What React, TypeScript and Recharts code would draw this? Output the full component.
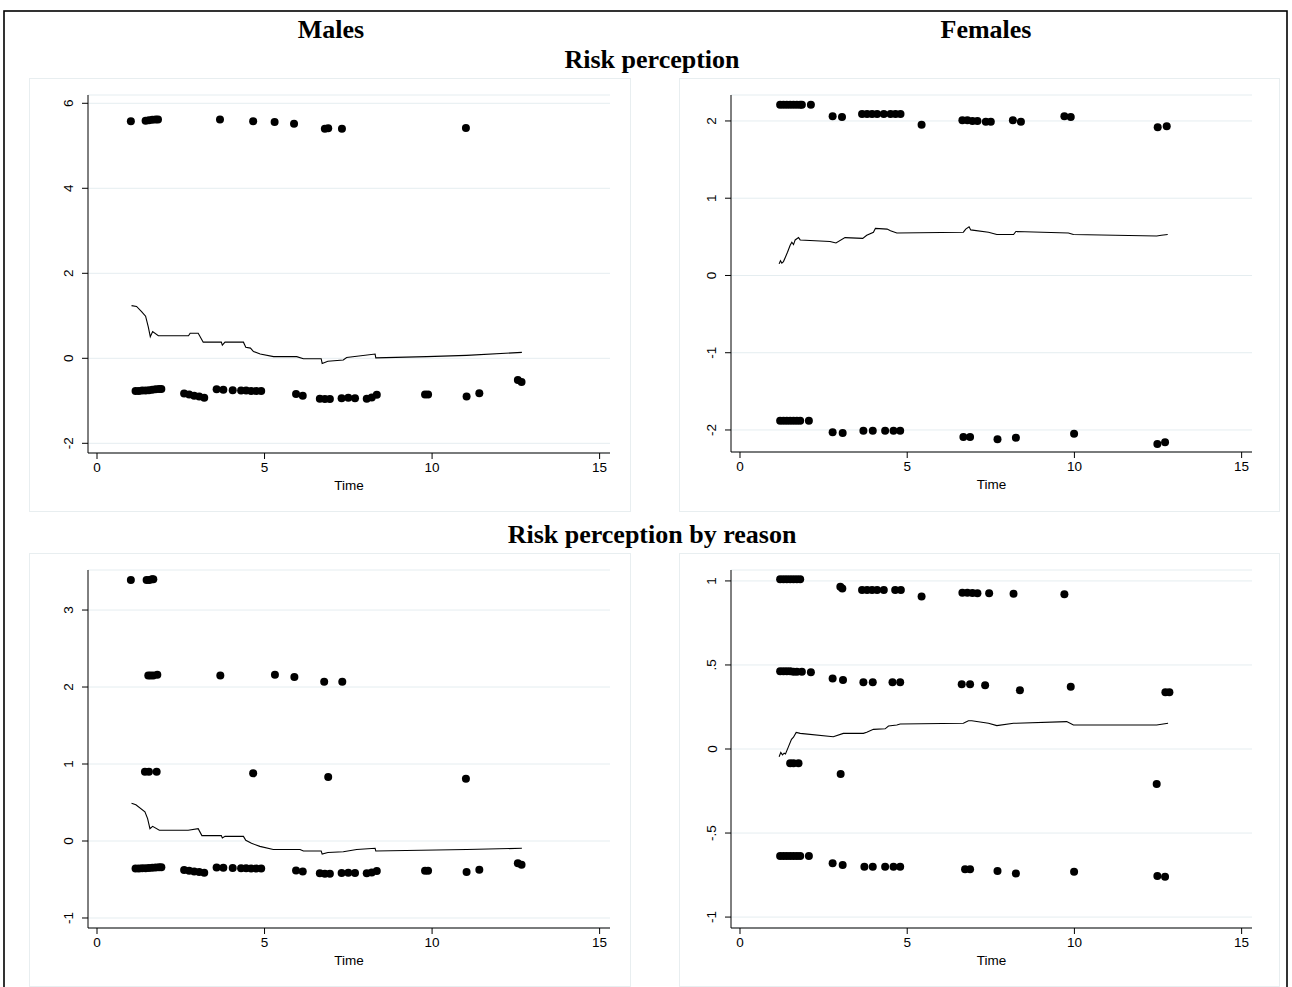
import React from 'react';
import { ComposedChart, Scatter, Line, XAxis, YAxis, CartesianGrid, Label } from 'recharts';

type Pt = [number, number];

const timeTicks = [0, 5, 10, 15];
const malesRiskTicks = [-2, 0, 2, 4, 6];
const femalesRiskTicks = [-2, -1, 0, 1, 2];
const malesReasonTicks = [-1, 0, 1, 2, 3];
const femalesReasonTicks = [-1, -0.5, 0, 0.5, 1];
const femalesReasonTickLabels = ['-1', '-.5', '0', '.5', '1'];

const malesRiskDots: Pt[] = [
  [1.01, 5.58], [1.45, 5.59], [1.55, 5.6], [1.65, 5.61], [1.75, 5.62], [1.82, 5.62], [3.67, 5.62], [4.66, 5.58],
  [5.3, 5.56], [5.88, 5.52], [6.8, 5.4], [6.9, 5.41], [7.31, 5.4], [11.01, 5.42],
  [1.15, -0.77], [1.25, -0.77], [1.35, -0.76], [1.45, -0.76], [1.55, -0.75], [1.65, -0.74], [1.75, -0.73], [1.85, -0.72], [1.92, -0.72],
  [2.6, -0.83], [2.75, -0.85], [2.9, -0.88], [3.05, -0.9], [3.2, -0.93],
  [3.57, -0.73], [3.77, -0.74], [4.05, -0.75],
  [4.3, -0.76], [4.45, -0.76], [4.6, -0.77], [4.75, -0.77], [4.9, -0.77],
  [5.94, -0.84], [6.14, -0.88], [6.65, -0.95], [6.8, -0.96], [6.95, -0.96],
  [7.3, -0.94], [7.5, -0.93], [7.7, -0.94], [8.05, -0.95], [8.2, -0.92], [8.35, -0.86],
  [9.79, -0.85], [9.88, -0.85], [11.03, -0.9], [11.41, -0.82], [12.56, -0.51], [12.67, -0.56],
];

const malesRiskTrend: Pt[] = [
  [1.03, 1.24], [1.18, 1.22], [1.33, 1.1], [1.45, 0.99], [1.53, 0.74], [1.59, 0.51], [1.66, 0.63], [1.83, 0.53],
  [2.73, 0.53], [2.78, 0.59], [3.02, 0.59], [3.17, 0.38], [3.71, 0.38], [3.74, 0.31], [3.82, 0.38], [4.37, 0.38],
  [4.44, 0.26], [4.58, 0.24], [4.67, 0.16], [4.87, 0.1], [5.27, 0.04], [5.96, 0.04], [6.16, -0.01], [6.69, -0.01],
  [6.72, -0.12], [6.89, -0.07], [7.35, -0.04], [7.45, 0.02], [8.3, 0.1], [8.32, 0.01], [9.84, 0.04], [11.03, 0.07], [12.68, 0.14],
];

const femalesRiskDots: Pt[] = [
  [1.2, 2.21], [1.3, 2.21], [1.4, 2.21], [1.5, 2.21], [1.6, 2.21], [1.7, 2.21], [1.8, 2.21], [1.85, 2.21], [2.12, 2.21],
  [2.77, 2.06], [3.05, 2.05], [3.65, 2.09], [3.8, 2.09], [3.95, 2.09], [4.1, 2.09], [4.3, 2.09], [4.5, 2.09], [4.65, 2.09], [4.8, 2.09],
  [5.43, 1.95], [6.65, 2.01], [6.8, 2.01], [6.95, 2.0], [7.1, 2.0], [7.35, 1.99], [7.5, 1.99], [8.16, 2.01], [8.4, 1.99],
  [9.7, 2.06], [9.89, 2.05], [12.49, 1.92], [12.76, 1.93],
  [1.2, -1.88], [1.3, -1.88], [1.4, -1.88], [1.5, -1.88], [1.6, -1.88], [1.7, -1.88], [1.8, -1.88], [2.06, -1.88],
  [2.77, -2.03], [3.07, -2.04], [3.69, -2.01], [3.97, -2.01], [4.34, -2.01], [4.59, -2.01], [4.79, -2.01],
  [6.68, -2.09], [6.88, -2.09], [7.7, -2.12], [8.25, -2.1], [9.99, -2.05], [12.48, -2.18], [12.71, -2.16],
];

const femalesRiskTrend: Pt[] = [
  [1.17, 0.15], [1.21, 0.19], [1.25, 0.16], [1.3, 0.18], [1.36, 0.24], [1.42, 0.3], [1.5, 0.39], [1.55, 0.43], [1.6, 0.4],
  [1.65, 0.46], [1.75, 0.49], [1.8, 0.46], [2.69, 0.44], [2.87, 0.42], [3.14, 0.49], [3.67, 0.48], [3.79, 0.52], [3.99, 0.56],
  [4.05, 0.61], [4.4, 0.6], [4.5, 0.58], [4.69, 0.55], [6.68, 0.56], [6.75, 0.6], [6.85, 0.63], [6.9, 0.59], [7.43, 0.56],
  [7.68, 0.53], [8.18, 0.53], [8.25, 0.57], [9.82, 0.55], [9.97, 0.53], [12.46, 0.51], [12.6, 0.52], [12.79, 0.53],
];

const malesReasonDots: Pt[] = [
  [1.01, 3.39], [1.48, 3.39], [1.56, 3.39], [1.64, 3.4], [1.68, 3.4],
  [1.53, 2.15], [1.6, 2.15], [1.68, 2.15], [1.8, 2.16], [3.68, 2.15], [5.31, 2.16], [5.89, 2.13], [6.78, 2.07], [7.32, 2.07],
  [1.43, 0.9], [1.55, 0.9], [1.78, 0.9], [4.66, 0.88], [6.9, 0.83], [11.01, 0.81],
  [1.15, -0.358], [1.25, -0.358], [1.35, -0.354], [1.45, -0.354], [1.55, -0.35], [1.65, -0.347], [1.75, -0.343], [1.85, -0.34], [1.92, -0.34],
  [2.6, -0.378], [2.75, -0.385], [2.9, -0.396], [3.05, -0.403], [3.2, -0.413],
  [3.57, -0.343], [3.77, -0.347], [4.05, -0.35],
  [4.3, -0.354], [4.45, -0.354], [4.6, -0.358], [4.75, -0.358], [4.9, -0.358],
  [5.94, -0.382], [6.14, -0.396], [6.65, -0.42], [6.8, -0.424], [6.95, -0.424],
  [7.3, -0.417], [7.5, -0.413], [7.7, -0.417], [8.05, -0.42], [8.2, -0.41], [8.35, -0.389],
  [9.79, -0.385], [9.88, -0.385], [11.03, -0.403], [11.41, -0.375], [12.56, -0.29], [12.67, -0.31],
];

const malesReasonTrend: Pt[] = [
  [1.03, 0.49], [1.16, 0.47], [1.43, 0.38], [1.51, 0.29], [1.58, 0.16], [1.66, 0.19], [1.86, 0.14], [2.72, 0.14],
  [3.02, 0.16], [3.13, 0.07], [3.71, 0.07], [3.74, 0.04], [3.82, 0.06], [4.37, 0.06], [4.44, 0.01], [4.61, -0.03],
  [4.86, -0.07], [5.26, -0.11], [6.06, -0.11], [6.16, -0.13], [6.69, -0.13], [6.72, -0.17], [6.89, -0.15], [7.35, -0.14],
  [7.75, -0.11], [8.3, -0.095], [8.32, -0.13], [11.03, -0.11], [12.68, -0.095],
];

const femalesReasonDots: Pt[] = [
  [1.2, 1.01], [1.3, 1.01], [1.4, 1.01], [1.5, 1.01], [1.6, 1.01], [1.7, 1.01], [1.8, 1.01], [3.0, 0.965], [3.06, 0.955],
  [3.65, 0.946], [3.8, 0.946], [3.95, 0.946], [4.1, 0.946], [4.3, 0.946], [4.64, 0.946], [4.81, 0.946], [5.43, 0.907],
  [6.65, 0.93], [6.8, 0.93], [6.95, 0.928], [7.1, 0.927], [7.45, 0.927], [8.18, 0.923], [9.7, 0.92],
  [1.2, 0.462], [1.3, 0.462], [1.4, 0.462], [1.5, 0.462], [1.6, 0.46], [1.7, 0.46], [1.85, 0.46], [2.12, 0.456],
  [2.77, 0.42], [3.08, 0.41], [3.69, 0.397], [3.97, 0.397], [4.56, 0.397], [4.79, 0.397], [6.63, 0.385], [6.88, 0.385],
  [7.33, 0.38], [8.37, 0.35], [9.89, 0.37], [12.72, 0.337], [12.84, 0.337],
  [1.5, -0.085], [1.6, -0.085], [1.75, -0.085], [3.01, -0.149], [12.46, -0.208],
  [1.2, -0.637], [1.3, -0.637], [1.4, -0.637], [1.5, -0.637], [1.6, -0.637], [1.7, -0.637], [1.8, -0.637], [2.06, -0.637],
  [2.77, -0.68], [3.07, -0.69], [3.72, -0.7], [3.97, -0.7], [4.34, -0.7], [4.59, -0.7], [4.79, -0.7],
  [6.73, -0.716], [6.88, -0.716], [7.7, -0.726], [8.25, -0.74], [9.99, -0.73], [12.48, -0.756], [12.71, -0.76],
];

const femalesReasonTrend: Pt[] = [
  [1.17, -0.046], [1.22, -0.02], [1.27, -0.035], [1.32, -0.025], [1.36, -0.03], [1.45, 0.014], [1.54, 0.058], [1.6, 0.07],
  [1.68, 0.099], [1.8, 0.093], [2.79, 0.073], [3.09, 0.093], [3.69, 0.093], [3.79, 0.1], [3.99, 0.117], [4.34, 0.12],
  [4.44, 0.137], [4.69, 0.143], [4.79, 0.149], [6.68, 0.153], [6.83, 0.168], [6.93, 0.168], [7.43, 0.153], [7.68, 0.139],
  [8.18, 0.153], [9.77, 0.163], [9.97, 0.143], [12.46, 0.143], [12.8, 0.153],
];

const toObj = (arr: Pt[]) => arr.map(([x, y]) => ({ x, y }));

const SANS = 'Liberation Sans, Arial, sans-serif';
const SERIF = 'Liberation Serif, Times New Roman, serif';
const GRID = '#e5edf0';

interface PanelProps {
  left: number; top: number; right: number; bottom: number;
  yDomain: [number, number]; yTicks: number[]; yLabels?: string[];
  dots: Pt[]; trend: Pt[];
}

function Panel({ left, top, right, bottom, yDomain, yTicks, yLabels, dots, trend }: PanelProps) {
  const W = right - left + 80;
  const H = bottom - top + 80;
  const fmtY = (v: number) => {
    if (yLabels) {
      const i = yTicks.indexOf(v);
      return i >= 0 ? yLabels[i] : String(v);
    }
    return String(v);
  };
  const XTick = (p: any) => (
    <text x={p.x} y={p.y + 11} textAnchor="middle" fontFamily={SANS} fontSize={13.5} fill="#000">
      {p.payload.value}
    </text>
  );
  const YTick = (p: any) => {
    const bx = p.x - 11;
    return (
      <text x={bx} y={p.y} transform={`rotate(-90 ${bx} ${p.y})`} textAnchor="middle" dominantBaseline="central"
        fontFamily={SANS} fontSize={13.5} fill="#000">
        {fmtY(p.payload.value)}
      </text>
    );
  };
  return (
    <div style={{ position: 'absolute', left: left - 60, top: top - 20 }}>
      <ComposedChart width={W} height={H} margin={{ top: 20, right: 20, bottom: 20, left: 0 }}>
        <CartesianGrid vertical={false} stroke={GRID} strokeWidth={1} />
        <XAxis type="number" dataKey="x" domain={[-0.269, 15.31]} ticks={timeTicks} allowDataOverflow
          height={40} axisLine={{ stroke: '#000', strokeWidth: 1 }} tickLine={{ stroke: '#000' }} tickSize={6}
          tick={XTick} interval={0}>
          <Label value="Time" position="insideBottom" offset={3} style={{ fontFamily: SANS, fontSize: 13.5, fill: '#000' }} />
        </XAxis>
        <YAxis type="number" dataKey="y" domain={yDomain} ticks={yTicks} allowDataOverflow width={60}
          axisLine={{ stroke: '#000', strokeWidth: 1 }} tickLine={{ stroke: '#000' }} tickSize={6} tick={YTick} interval={0} />
        <Line data={toObj(trend)} dataKey="y" type="linear" dot={false} stroke="#000" strokeWidth={1.1}
          isAnimationActive={false} activeDot={false} />
        <Scatter data={toObj(dots)} dataKey="y" isAnimationActive={false}
          shape={(p: any) => <circle cx={p.cx} cy={p.cy} r={4} fill="#000" />} />
      </ComposedChart>
    </div>
  );
}

export default function App() {
  return (
    <div style={{ position: 'absolute', left: 0, top: 0, width: 1292, height: 987, background: '#fff', overflow: 'hidden' }}>
      <svg width={1292} height={987} style={{ position: 'absolute', left: 0, top: 0 }}>
        <rect x={4} y={11} width={1283} height={990} fill="none" stroke="#000" strokeWidth={1.6} />
        <rect x={29.5} y={78.5} width={601} height={433} fill="none" stroke="#e8eef0" />
        <rect x={679.5} y={78.5} width={600} height={433} fill="none" stroke="#e8eef0" />
        <rect x={29.5} y={553.5} width={601} height={433} fill="none" stroke="#e8eef0" />
        <rect x={679.5} y={553.5} width={600} height={433} fill="none" stroke="#e8eef0" />
        <text x={331} y={38} textAnchor="middle" fontFamily={SERIF} fontWeight="bold" fontSize={26}>Males</text>
        <text x={986} y={38} textAnchor="middle" fontFamily={SERIF} fontWeight="bold" fontSize={26}>Females</text>
        <text x={652} y={67.5} textAnchor="middle" fontFamily={SERIF} fontWeight="bold" fontSize={26}>Risk perception</text>
        <text x={652} y={542.5} textAnchor="middle" fontFamily={SERIF} fontWeight="bold" fontSize={26}>Risk perception by reason</text>
      </svg>
      <Panel left={88} top={95} right={610} bottom={453} yDomain={[-2.228, 6.195]} yTicks={malesRiskTicks}
        dots={malesRiskDots} trend={malesRiskTrend} />
      <Panel left={731} top={95} right={1252} bottom={452} yDomain={[-2.285, 2.336]} yTicks={femalesRiskTicks}
        dots={femalesRiskDots} trend={femalesRiskTrend} />
      <Panel left={88} top={570} right={610} bottom={928} yDomain={[-1.13, 3.52]} yTicks={malesReasonTicks}
        dots={malesReasonDots} trend={malesReasonTrend} />
      <Panel left={731} top={570} right={1252} bottom={928} yDomain={[-1.065, 1.065]} yTicks={femalesReasonTicks}
        yLabels={femalesReasonTickLabels} dots={femalesReasonDots} trend={femalesReasonTrend} />
    </div>
  );
}
